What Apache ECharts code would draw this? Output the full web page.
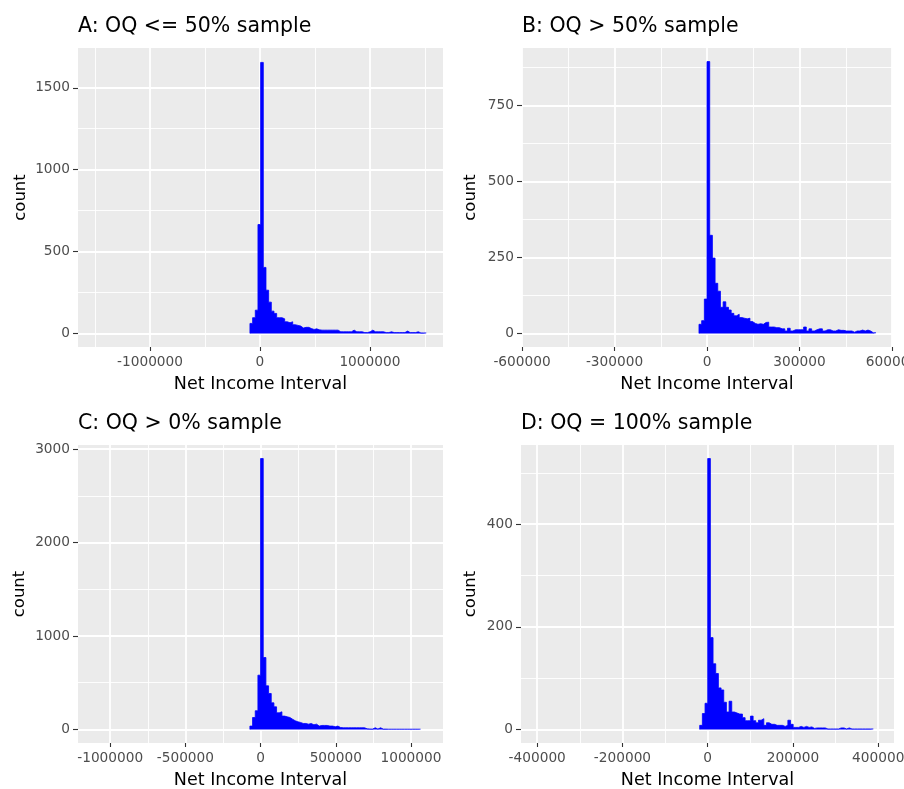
<!DOCTYPE html>
<html><head><meta charset="utf-8">
<script src="https://cdn.jsdelivr.net/npm/echarts@6/dist/echarts.min.js"></script>
<style>html,body{margin:0;padding:0;background:#fff}#c{width:904px;height:789px}</style>
</head><body><div id="c"></div>
<script>
// ---- data ----
const titles = ['A: OQ <= 50% sample', 'B: OQ > 50% sample', 'C: OQ > 0% sample', 'D: OQ = 100% sample'];
const xTicksA = [-1000000, 0, 1000000];
const xTicksB = [-600000, -300000, 0, 300000, 600000];
const xTicksC = [-1000000, -500000, 0, 500000, 1000000];
const xTicksD = [-400000, -200000, 0, 200000, 400000];
const yTicksA = [0, 500, 1000, 1500];
const yTicksB = [0, 250, 500, 750];
const yTicksC = [0, 1000, 2000, 3000];
const yTicksD = [0, 200, 400];
const binStart = [-91000, -26000, -70920, -18800];
const binWidth = [24300, 8700, 17730, 6267];
const countsA = [61, 96, 142, 665, 1655,
  403, 264, 191, 136, 122, 96, 96, 89, 71, 65, 71, 53, 49, 45, 33, 37, 37, 30, 24, 28,
  22, 20, 20, 20, 20, 20, 20, 20, 10, 10, 10, 10, 10, 20, 10, 10, 10, 5, 5, 10, 20,
  10, 10, 10, 10, 5, 5, 10, 5, 5, 5, 5, 5, 14, 5, 5, 5, 10, 3, 3, 3];
const countsB = [30, 42, 113, 895,
  323, 248, 165, 139, 86, 104, 86, 77, 66, 58, 63, 52, 50, 48, 50, 39, 33, 30, 32, 30,
  36, 37, 21, 21, 19, 19, 15, 15, 8, 17, 8, 12, 12, 12, 12, 21, 8, 15, 8, 12,
  15, 15, 8, 12, 12, 8, 8, 12, 10, 10, 8, 8, 8, 4, 8, 8, 11, 8, 11, 8, 2, 2];
const countsC = [36, 128, 200, 581, 2900,
  770, 467, 385, 285, 242, 178, 189, 143, 135, 128, 110, 93, 82, 75, 64, 64, 57, 64, 50, 57,
  36, 43, 43, 43, 36, 36, 29, 36, 21, 18, 18, 18, 18, 18, 18, 18, 18, 18, 7, 5, 4, 18, 4, 18,
  4, 4, 3, 3, 3, 3, 3, 3, 3, 3, 3, 3, 3, 3, 3];
const countsD = [8, 31, 51, 528,
  179, 128, 109, 81, 77, 53, 34, 55, 34, 32, 30, 30, 23, 17, 17, 26, 17, 13, 18, 21,
  8, 13, 10, 10, 8, 8, 8, 6, 8, 18, 10, 4, 4, 6, 4, 6, 4, 5, 2, 3,
  3, 3, 3, 1, 1, 1, 1, 1, 3, 3, 1, 3, 1, 1, 1, 1, 1, 1, 1, 1, 1];

// ---- axes config ----
const xTicks = [xTicksA, xTicksB, xTicksC, xTicksD];
const yTicks = [yTicksA, yTicksB, yTicksC, yTicksD];
const counts = [countsA, countsB, countsC, countsD];
const xRange = [[-1655000, 1665000], [-600000, 600000], [-1214000, 1213000], [-438000, 437000]];
const yRange = [[-83, 1743], [-44.75, 939.75], [-145, 3045], [-26.4, 554.4]];
const xInterval = [1000000, 300000, 500000, 200000];
const yInterval = [500, 250, 1000, 200];

const layout = [
  {left: 78, top: 48, width: 365, height: 299, titleTop: 16, yGap: 49},
  {left: 522, top: 48, width: 370, height: 299, titleTop: 16, yGap: 43},
  {left: 78, top: 445, width: 365, height: 298, titleTop: 413, yGap: 49.5},
  {left: 521, top: 445, width: 373, height: 298, titleTop: 413, yGap: 42}
];
const FONT = 'DejaVu Sans';

// histogram outline points: bin left edges with counts, closed to zero at both ends
function histPoints(start, width, cs) {
  const pts = [[start, 0]];
  cs.forEach((c, k) => pts.push([start + k * width, c]));
  pts.push([start + cs.length * width, 0]);
  return pts;
}

const grid = [], xAxis = [], yAxis = [], series = [], title = [];
for (let i = 0; i < 4; i++) {
  const L = layout[i];
  grid.push({left: L.left, top: L.top, width: L.width, height: L.height,
    show: true, backgroundColor: '#EBEBEB', borderWidth: 0, containLabel: false,
    outerBoundsMode: 'none'});
  title.push({text: titles[i], left: L.left, top: L.titleTop, padding: 0,
    textStyle: {fontFamily: FONT, fontSize: 20.5, fontWeight: 'normal', color: '#000'}});
  xAxis.push({
    type: 'value', gridIndex: i, min: xRange[i][0], max: xRange[i][1],
    minInterval: xInterval[i], maxInterval: xInterval[i],
    axisLine: {show: false, onZero: false},
    axisTick: {show: true, length: 4, lineStyle: {color: '#333333', width: 1.1}, customValues: xTicks[i]},
    axisLabel: {customValues: xTicks[i], formatter: v => String(v), color: '#4D4D4D',
      fontSize: 13.7, fontFamily: FONT, margin: 8, hideOverlap: false,
      alignMinLabel: 'center', alignMaxLabel: 'center'},
    splitLine: {show: true, lineStyle: {color: '#FFFFFF', width: 1.8}},
    minorTick: {show: false, splitNumber: 2},
    minorSplitLine: {show: true, lineStyle: {color: '#FFFFFF', width: 0.9}},
    name: 'Net Income Interval', nameLocation: 'middle', nameGap: 28,
    nameTextStyle: {fontFamily: FONT, fontSize: 17.5, color: '#000'}
  });
  yAxis.push({
    type: 'value', gridIndex: i, min: yRange[i][0], max: yRange[i][1],
    minInterval: yInterval[i], maxInterval: yInterval[i],
    axisLine: {show: false, onZero: false},
    axisTick: {show: true, length: 5, lineStyle: {color: '#333333', width: 1.1}, customValues: yTicks[i]},
    axisLabel: {customValues: yTicks[i], formatter: v => String(v), color: '#4D4D4D',
      fontSize: 13.7, fontFamily: FONT, margin: 8, hideOverlap: false},
    splitLine: {show: true, lineStyle: {color: '#FFFFFF', width: 1.8}},
    minorTick: {show: false, splitNumber: 2},
    minorSplitLine: {show: true, lineStyle: {color: '#FFFFFF', width: 0.9}},
    name: 'count', nameLocation: 'middle', nameGap: L.yGap,
    nameTextStyle: {fontFamily: FONT, fontSize: 16.5, color: '#000'}
  });
  series.push({type: 'line', xAxisIndex: i, yAxisIndex: i, step: 'end',
    data: histPoints(binStart[i], binWidth[i], counts[i]),
    showSymbol: false, symbol: 'none', sampling: null, clip: true, silent: true,
    lineStyle: {color: '#0000FF', width: 0.8},
    areaStyle: {color: '#0000FF', opacity: 1, origin: 0},
    itemStyle: {color: '#0000FF'}});
}

const chart = echarts.init(document.getElementById('c'), null, {renderer: 'canvas'});
chart.setOption({animation: false, backgroundColor: '#FFFFFF', title, grid, xAxis, yAxis, series});
</script></body></html>
